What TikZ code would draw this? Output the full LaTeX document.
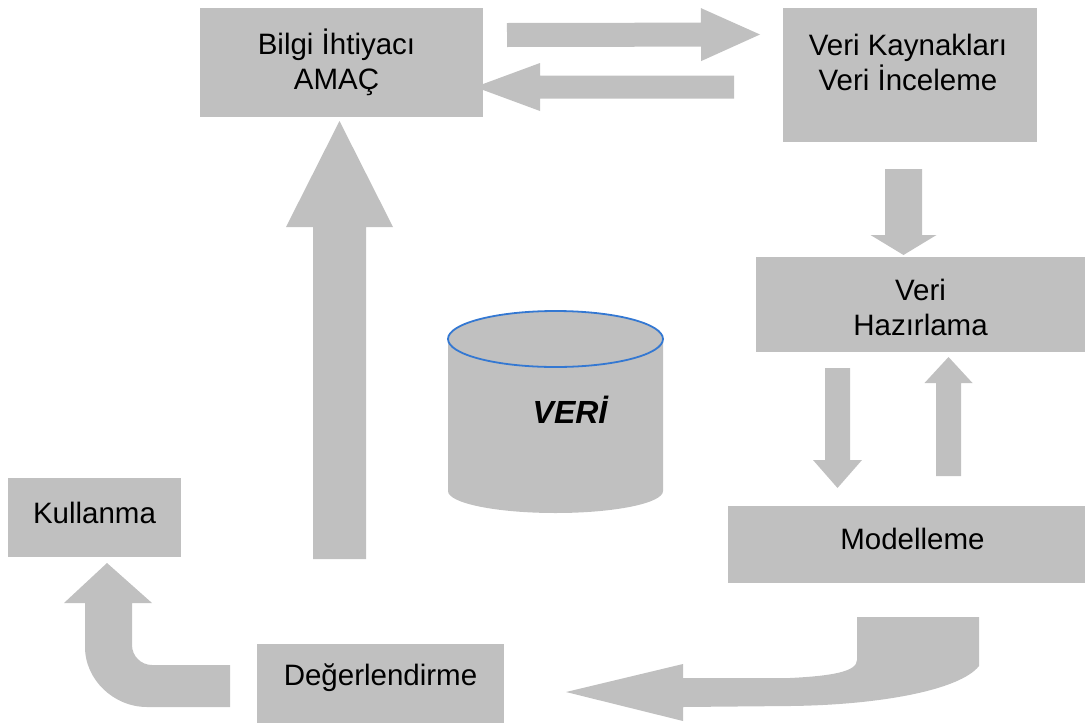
\documentclass[tikz,border=0pt]{standalone}
\usepackage{fontspec}
\setmainfont{Liberation Sans}
\usetikzlibrary{calc}
\definecolor{boxgray}{RGB}{192,192,192}
\definecolor{rimblue}{RGB}{52,120,210}
\tikzset{
  stage/.style={rectangle,fill=boxgray,inner sep=0pt,outer sep=0pt},
  lbl/.style={font=\fontsize{29.5}{35}\selectfont,align=center,inner sep=0pt}
}
% block arrow: start, tip, shaft half width, head half width, head length
\newcommand{\fatarrow}[5]{%
  \coordinate (fa-base) at ($(#2)!#5!(#1)$);
  \fill[boxgray] ($(#1)!#3!90:(#2)$) -- ($(fa-base)!#3!90:(#2)$)
    -- ($(fa-base)!#4!90:(#2)$) -- (#2) -- ($(fa-base)!#4!-90:(#2)$)
    -- ($(fa-base)!#3!-90:(#2)$) -- ($(#1)!#3!-90:(#2)$) -- cycle;
}
\begin{document}
\begin{tikzpicture}[x=1pt,y=-1pt]
\useasboundingbox (0,0) rectangle (1087,726);

\node(amac) at (341.5,62.5)[stage,minimum width=283,minimum height=109] {};
\node(kaynak) at (910,75)[stage,minimum width=254,minimum height=134] {};
\node(hazirlama) at (920.5,304.5)[stage,minimum width=329,minimum height=95] {};
\node(modelleme) at (906.5,544.5)[stage,minimum width=357,minimum height=77] {};
\node(kullanma) at (94.5,517.5)[stage,minimum width=173,minimum height=79] {};
\node(degerlendirme) at (380.5,683.5)[stage,minimum width=247,minimum height=79] {};

\node(amac-t) at ($(amac.center)+(-5,0)$)[lbl] {Bilgi İhtiyacı\\AMAÇ};
\node(kaynak-t) at ($(kaynak.center)+(-2,-13)$)[lbl] {Veri Kaynakları\\Veri İnceleme};
\node(hazirlama-t) at ($(hazirlama.center)+(0,3)$)[lbl] {Veri\\Hazırlama};
\node(modelleme-t) at ($(modelleme.center)+(6,-6)$)[lbl] {Modelleme};
\node(kullanma-t) at ($(kullanma.center)+(0,-5)$)[lbl] {Kullanma};
\node(degerlendirme-t) at ($(degerlendirme.center)+(0,-6)$)[lbl] {Değerlendirme};

% straight block arrows
\coordinate (ak1) at ($(amac.east)+(24,-27.5)$);
\coordinate (ak2) at ($(kaynak.west)+(-23,-40.5)$);
\coordinate (ka1) at ($(kaynak.west)+(-49,12)$);
\coordinate (ka2) at ($(amac.east)+(-8,24.5)$);
\coordinate (kh1) at ($(kaynak.south)+(-6.5,27)$);
\coordinate (kh2) at ($(hazirlama.north)+(-17,-2)$);
\coordinate (hm1) at ($(hazirlama.south)+(-83,16)$);
\coordinate (hm2) at ($(modelleme.north)+(-69,-18)$);
\coordinate (mh1) at ($(modelleme.north)+(42,-30)$);
\coordinate (mh2) at ($(hazirlama.south)+(28,5)$);
\coordinate (da1) at ($(degerlendirme.north)+(-41,-85)$);
\coordinate (da2) at ($(amac.south)+(-2,4)$);

\fatarrow{ak1}{ak2}{12pt}{26.5pt}{59pt}
\fatarrow{ka1}{ka2}{11.5pt}{24pt}{65pt}
\fatarrow{kh1}{kh2}{18.5pt}{33pt}{20pt}
\fatarrow{hm1}{hm2}{12.5pt}{24.5pt}{28pt}
\fatarrow{mh1}{mh2}{12.5pt}{24pt}{26pt}
\fatarrow{da1}{da2}{26.5pt}{53.5pt}{106pt}

% curved arrows
\fill[boxgray] (566,692) -- (683,664) -- (683,678) -- (790,678)
  .. controls (830,676) and (857,672) .. (857,660) -- (857,617) -- (979,617)
  -- (979,666) .. controls (960,690) and (880,705) .. (790,706)
  -- (683,707) -- (683,721) -- cycle;
\fill[boxgray] (230,665) -- (152,665) .. controls (141,665) and (132,656) .. (132,645)
  -- (132,603) -- (152,603) -- (107,563) -- (64,603) -- (85,603) -- (85,647)
  .. controls (85,680) and (114,707) .. (147,707) -- (230,707) -- cycle;

% data store
\fill[boxgray] (448,339) -- (448,491) arc[start angle=180,end angle=0,x radius=107.5,y radius=22]
  -- (663,339) -- cycle;
\draw[rimblue,fill=boxgray,line width=1.8pt] (555.5,339) ellipse[x radius=107.5,y radius=28];
\node(veri) at (570,410)[lbl,font=\fontsize{32}{36}\selectfont\bfseries\itshape] {VERİ};
\end{tikzpicture}
\end{document}
